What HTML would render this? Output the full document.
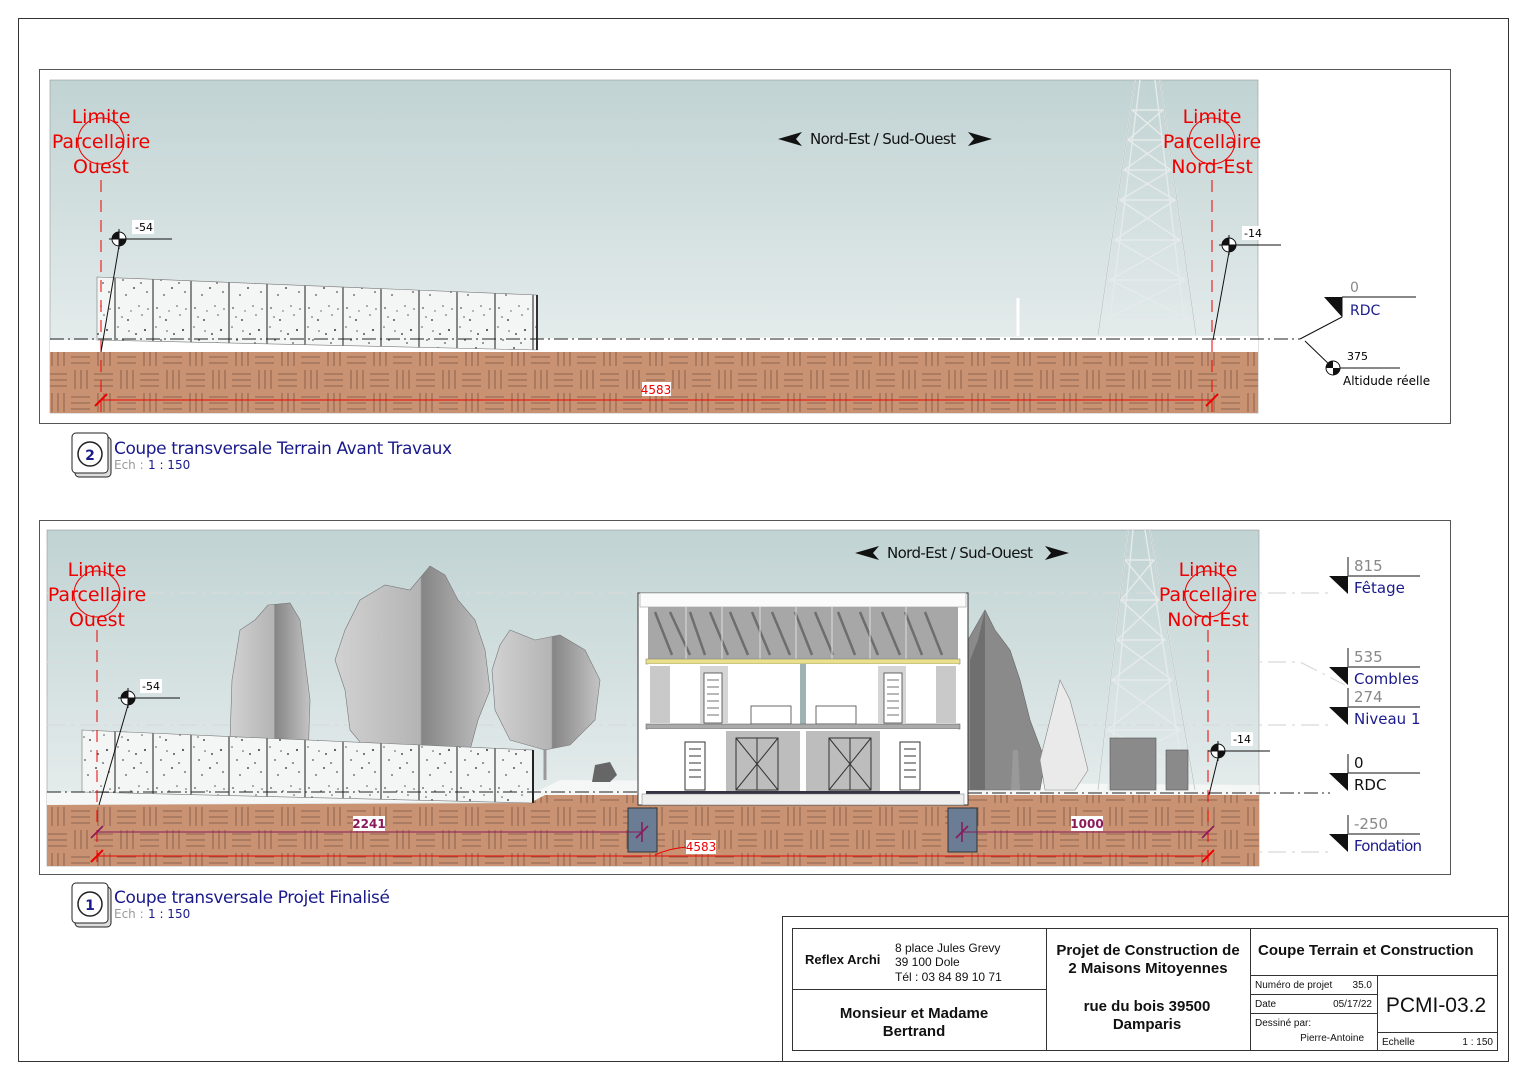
<!DOCTYPE html>
<html><head><meta charset="utf-8"><style>
html,body{margin:0;padding:0;background:#fff;}
svg{display:block;}
.d{font-family:"DejaVu Sans","Liberation Sans",sans-serif;}
.t{font-family:"Liberation Sans",sans-serif;}
</style></head><body>
<svg width="1527" height="1080" viewBox="0 0 1527 1080" xmlns="http://www.w3.org/2000/svg">
<defs>
<linearGradient id="sky" x1="0" y1="0" x2="0" y2="1">
<stop offset="0" stop-color="#c1d3d3"/><stop offset="1" stop-color="#eef2f2"/>
</linearGradient>
<pattern id="soil" width="46" height="46" patternUnits="userSpaceOnUse">
<rect width="46" height="46" fill="#c99373"/>
<g stroke="#7a5444" stroke-width="0.8">
<path d="M2 6H21M2 12H21M2 18H21"/>
<path d="M29 2V21M35 2V21M41 2V21"/>
<path d="M6 25V44M12 25V44M18 25V44"/>
<path d="M25 29H44M25 35H44M25 41H44"/>
</g>
</pattern>
<pattern id="fence" width="38" height="60" patternUnits="userSpaceOnUse">
<rect width="38" height="60" fill="#f4f5f5"/>
<g fill="#555">
<circle cx="5" cy="8" r="0.9"/><circle cx="14" cy="20" r="1"/><circle cx="25" cy="6" r="0.8"/><circle cx="31" cy="30" r="1.1"/>
<circle cx="9" cy="40" r="0.9"/><circle cx="20" cy="48" r="1"/><circle cx="28" cy="15" r="0.8"/><circle cx="12" cy="55" r="0.9"/>
<circle cx="33" cy="52" r="0.9"/><circle cx="4" cy="27" r="0.8"/><circle cx="22" cy="34" r="1"/><circle cx="17" cy="11" r="0.7"/>
<circle cx="8" cy="17" r="0.8"/><circle cx="27" cy="43" r="0.9"/><circle cx="15" cy="31" r="0.8"/><circle cx="34" cy="9" r="0.8"/>
</g>
<rect x="0" y="0" width="2" height="60" fill="#888"/>
</pattern>
<linearGradient id="tree" x1="0" y1="0" x2="1" y2="0">
<stop offset="0" stop-color="#d2d2d2"/><stop offset="0.55" stop-color="#b4b4b4"/><stop offset="0.56" stop-color="#858585"/><stop offset="1" stop-color="#c4c4c4"/>
</linearGradient>
</defs>

<rect x="18.5" y="18.5" width="1490" height="1043" fill="none" stroke="#333" stroke-width="1"/>

<!-- ===== TOP PANEL ===== -->
<rect x="39.5" y="69.5" width="1411" height="354" fill="#fff" stroke="#555"/>
<rect x="50" y="80" width="1208" height="333" fill="url(#sky)" stroke="#999" stroke-width="0.6"/>
<polygon points="50,340 1258,336 1258,352 50,352" fill="#fff"/>
<rect x="50" y="352" width="1208" height="61" fill="url(#soil)"/>
<g stroke="#e6eaea" stroke-width="1.4" fill="none">
<path d="M1135 80 L1098 335 M1160 80 L1196 335 M1140 80 L1108 335 M1155 80 L1186 335"/>
<path d="M1132 110H1163M1128 140H1167M1124 170H1171M1120 200H1175M1115 240H1180M1110 280H1185M1104 320H1191"/>
<path d="M1132 110L1167 140L1124 170L1175 200L1115 240L1185 280L1104 320M1163 110L1128 140L1171 170L1120 200L1180 240L1110 280L1191 320"/>
</g>
<g stroke="#b0b8b8" stroke-width="0.5" fill="none">
<path d="M1135 80 L1098 335 M1160 80 L1196 335"/>
</g>
<path d="M1018 298V336" stroke="#fff" stroke-width="3"/>
<polygon points="97,277 537,295 537,350 97,340" fill="url(#fence)" stroke="#777" stroke-width="0.6"/>
<path d="M537 295V350" stroke="#333" stroke-width="2"/>
<path d="M50 339H1300" stroke="#222" stroke-width="1" stroke-dasharray="14,4,2,4"/>
<g stroke="#e00" fill="none">
<path d="M101 180V413" stroke-dasharray="12,8"/>
<path d="M1212 180V413" stroke-dasharray="12,8"/>
<path d="M101 400H1212"/>
<path d="M95 406L107 394M1206 406L1218 394" stroke-width="2"/>
<circle cx="101" cy="141" r="23"/><circle cx="1212" cy="141" r="23"/>
</g>
<g class="d" fill="#e00" font-size="19" text-anchor="middle">
<text x="101" y="123">Limite</text><text x="101" y="148">Parcellaire</text><text x="101" y="173">Ouest</text>
<text x="1212" y="123">Limite</text><text x="1212" y="148">Parcellaire</text><text x="1212" y="173">Nord-Est</text>
</g>
<rect x="642" y="382" width="29" height="14" fill="#fff"/>
<text x="656" y="394" class="d" font-size="12" fill="#e00" text-anchor="middle">4583</text>
<path d="M778 139L802 132L796 139L802 146Z M992 139L968 132L974 139L968 146Z" fill="#111"/>
<text x="883" y="144" class="d" font-size="15" fill="#111" text-anchor="middle" textLength="146">Nord-Est / Sud-Ouest</text>
<g stroke="#111" fill="none">
<path d="M110 239H172M1220 245H1281"/>
<circle cx="119" cy="239" r="7" fill="#fff"/>
<circle cx="1229" cy="245" r="7" fill="#fff"/>
<path d="M119 229V249M109 239H129M1229 235V255M1219 245H1239"/>
<path d="M119 246L101 352M1229 252L1213 340"/>
</g>
<path d="M119 239H126A7 7 0 0 1 119 246Z M112 239H119V232A7 7 0 0 0 112 239Z" fill="#111"/>
<path d="M1229 245H1236A7 7 0 0 1 1229 252Z M1222 245H1229V238A7 7 0 0 0 1222 245Z" fill="#111"/>
<rect x="132" y="220" width="22" height="14" fill="#fff"/><text x="135" y="231" class="d" font-size="11">-54</text>
<rect x="1242" y="226" width="22" height="14" fill="#fff"/><text x="1244" y="237" class="d" font-size="11">-14</text>
<path d="M1300 339L1342 317M1342 297V317M1342 297H1416" stroke="#111" fill="none"/>
<path d="M1324 297H1342V317Z" fill="#111"/>
<text x="1350" y="292" class="d" font-size="14" fill="#888">0</text>
<text x="1350" y="315" class="d" font-size="14" fill="#1a1a8c">RDC</text>
<path d="M1305 341L1333 368M1333 368H1400" stroke="#111" fill="none"/>
<circle cx="1333" cy="368" r="7" fill="#fff" stroke="#111"/>
<path d="M1333 368H1340A7 7 0 0 1 1333 375ZM1326 368H1333V361A7 7 0 0 0 1326 368Z" fill="#111"/>
<text x="1347" y="360" class="d" font-size="11">375</text>
<text x="1343" y="385" class="d" font-size="12">Altidude réelle</text>

<rect x="75" y="437" width="36" height="40" rx="4" fill="#ddd" stroke="#222"/>
<rect x="72" y="433" width="36" height="40" rx="4" fill="#fff" stroke="#222"/>
<circle cx="90" cy="454" r="12" fill="none" stroke="#222" stroke-width="1.5"/>
<text x="90" y="460" class="d" font-size="14" font-weight="bold" fill="#1a1a8c" text-anchor="middle">2</text>
<text x="114" y="454" class="d" font-size="17" fill="#1a1a8c" textLength="338">Coupe transversale Terrain Avant Travaux</text>
<text x="114" y="469" class="d" font-size="12" fill="#999">Ech :</text>
<text x="148" y="469" class="d" font-size="12" fill="#1a1a8c">1 : 150</text>

<!-- ===== BOTTOM PANEL ===== -->
<rect x="39.5" y="520.5" width="1411" height="354" fill="#fff" stroke="#555"/>
<rect x="47" y="530" width="1212" height="336" fill="url(#sky)" stroke="#999" stroke-width="0.6"/>
<g stroke="#d8dada" stroke-width="1.2" stroke-dasharray="18,6,3,6" fill="none">
<path d="M47 593H1330M47 662H1300L1345 685M47 725H1330M47 852H1330"/>
</g>
<polygon points="47,792 540,790 560,780 1259,785 1259,796 47,805" fill="#f5f6f6"/>
<polygon points="47,805 530,803 545,795 1259,795 1259,866 47,866" fill="url(#soil)"/>
<g stroke="#e6eaea" stroke-width="1.4" fill="none">
<path d="M1128 530L1098 790M1150 530L1195 790M1133 530L1108 790M1145 530L1186 790"/>
<path d="M1125 560H1154M1121 600H1159M1117 640H1165M1112 680H1172M1107 730H1181M1102 770H1189"/>
<path d="M1125 560L1159 600L1117 640L1172 680L1107 730L1189 770M1154 560L1121 600L1165 640L1112 680L1181 730L1102 770"/>
</g>
<g stroke="#b0b8b8" stroke-width="0.5" fill="none"><path d="M1128 530L1098 790M1150 530L1195 790"/></g>
<path d="M268 605L290 603L300 620L305 660L310 700L308 760L295 780L240 780L230 740L232 680L240 630L255 620Z" fill="url(#tree)" stroke="#777" stroke-width="0.6"/>
<path d="M430 566L445 575L458 600L475 620L485 650L490 690L478 720L470 750L420 770L375 760L350 730L345 690L335 660L345 630L360 600L385 585L410 590Z" fill="url(#tree)" stroke="#777" stroke-width="0.6"/>
<path d="M545 780V720" stroke="#999" stroke-width="3"/>
<path d="M510 630L535 640L560 635L585 650L600 680L595 720L570 745L545 750L510 740L495 710L492 670L500 645Z" fill="url(#tree)" stroke="#777" stroke-width="0.6"/>
<path d="M595 765L610 762L617 775L610 782L592 782Z" fill="#666"/>
<path d="M985 610L995 630L1010 650L1020 680L1030 720L1045 760L1040 790L968 790L968 640Z" fill="#8a8a8a" stroke="#666" stroke-width="0.6"/>
<path d="M985 610L978 640L970 660V790L985 790Z" fill="#6f6f6f"/>
<path d="M1060 680L1070 700L1078 730L1088 770L1075 790L1045 790L1040 760L1050 720Z" fill="#eaeaea" stroke="#888" stroke-width="0.6"/>
<path d="M1013 750L1018 750L1020 790L1011 790Z" fill="#999"/>
<rect x="1110" y="738" width="46" height="52" fill="#8a8a8a" stroke="#555" stroke-width="0.6"/>
<rect x="1166" y="750" width="22" height="40" fill="#8a8a8a" stroke="#555" stroke-width="0.6"/>
<polygon points="82,730 533,750 533,803 82,792" fill="url(#fence)" stroke="#777" stroke-width="0.6"/>
<path d="M533 750V803" stroke="#222" stroke-width="2"/>
<!-- house -->
<rect x="638" y="593" width="330" height="212" fill="#fff" stroke="#333"/>
<rect x="640" y="593" width="326" height="14" fill="#fbfbfb" stroke="#999" stroke-width="0.6"/>
<rect x="648" y="607" width="310" height="53" fill="#a7a7a7"/>
<g stroke="#6e6e6e" stroke-width="2.5">
<path d="M655 612L672 655M670 612L690 655M690 612L705 655M710 612L728 655M730 612L748 655M752 612L770 655M772 612L790 655M795 612L812 655M815 612L833 655M838 612L855 655M860 612L878 655M882 612L900 655M905 612L922 655M925 612L942 655"/>
</g>
<g stroke="#ddd" stroke-width="1"><path d="M686 607V660M722 607V660M760 607V660M796 607V660M832 607V660M870 607V660M906 607V660"/></g>
<rect x="646" y="659" width="314" height="5" fill="#e8e08a" stroke="#777" stroke-width="0.5"/>
<rect x="648" y="664" width="310" height="61" fill="#fff"/>
<rect x="650" y="666" width="20" height="57" fill="#c9c9c9"/>
<rect x="700" y="666" width="28" height="57" fill="#d5d5d5"/>
<rect x="878" y="666" width="28" height="57" fill="#d5d5d5"/>
<rect x="936" y="666" width="20" height="57" fill="#c9c9c9"/>
<rect x="800" y="664" width="6" height="128" fill="#9fb3b3"/>
<g fill="#fff" stroke="#444" stroke-width="0.8">
<rect x="704" y="673" width="18" height="50"/><rect x="884" y="673" width="18" height="50"/>
<rect x="751" y="706" width="40" height="18"/><rect x="816" y="706" width="40" height="18"/>
</g>
<g stroke="#444" stroke-width="0.8"><path d="M707 680H719M707 687H719M707 694H719M707 701H719M707 708H719M707 715H719M887 680H899M887 687H899M887 694H899M887 701H899M887 708H899M887 715H899"/></g>
<rect x="646" y="724" width="314" height="5" fill="#aaa" stroke="#555" stroke-width="0.5"/>
<rect x="648" y="729" width="310" height="63" fill="#fff"/>
<rect x="726" y="731" width="74" height="61" fill="#bdbdbd"/>
<rect x="806" y="731" width="74" height="61" fill="#bdbdbd"/>
<g fill="none" stroke="#333" stroke-width="1">
<rect x="736" y="738" width="42" height="52"/><path d="M736 738L778 790M778 738L736 790M757 738V790"/>
<rect x="829" y="738" width="42" height="52"/><path d="M829 738L871 790M871 738L829 790M850 738V790"/>
<rect x="685" y="742" width="20" height="48" fill="#fff"/><rect x="900" y="742" width="20" height="48" fill="#fff"/>
<path d="M689 749H701M689 756H701M689 763H701M689 770H701M689 777H701M904 749H916M904 756H916M904 763H916M904 770H916M904 777H916"/>
</g>
<rect x="646" y="791" width="314" height="3" fill="#334"/>
<rect x="642" y="794" width="322" height="11" fill="#eee" stroke="#777" stroke-width="0.5"/>
<rect x="628" y="808" width="29" height="44" fill="#6a7d95" stroke="#333"/>
<rect x="948" y="808" width="29" height="44" fill="#6a7d95" stroke="#333"/>
<path d="M47 792H640M968 793H1330" stroke="#222" stroke-dasharray="14,4,2,4"/>
<g stroke="#e00" fill="none">
<path d="M97 630V866" stroke-dasharray="12,8"/>
<path d="M1208 630V866" stroke-dasharray="12,8"/>
<path d="M97 856H1208"/>
<path d="M91 862L103 850M1202 862L1214 850" stroke-width="2"/>
<circle cx="97" cy="594" r="23"/><circle cx="1208" cy="594" r="23"/>
<path d="M655 855Q670 848 688 847"/>
</g>
<g stroke="#8a1a5a" fill="none">
<path d="M97 832H642M962 832H1208"/>
<path d="M91 838L103 826M636 838L648 826M956 838L968 826M1202 838L1214 826M642 822V842M962 822V842" stroke-width="1.6"/>
</g>
<g class="d" fill="#e00" font-size="19" text-anchor="middle">
<text x="97" y="576">Limite</text><text x="97" y="601">Parcellaire</text><text x="97" y="626">Ouest</text>
<text x="1208" y="576">Limite</text><text x="1208" y="601">Parcellaire</text><text x="1208" y="626">Nord-Est</text>
</g>
<rect x="353" y="816" width="32" height="15" fill="#fff"/><text x="369" y="828" class="d" font-size="12" font-weight="bold" fill="#8a1a5a" text-anchor="middle">2241</text>
<rect x="1071" y="816" width="32" height="15" fill="#fff"/><text x="1087" y="828" class="d" font-size="12" font-weight="bold" fill="#8a1a5a" text-anchor="middle">1000</text>
<rect x="686" y="840" width="30" height="14" fill="#fff"/><text x="701" y="851" class="d" font-size="12" fill="#e00" text-anchor="middle">4583</text>
<path d="M855 553L879 546L873 553L879 560Z M1069 553L1045 546L1051 553L1045 560Z" fill="#111"/>
<text x="960" y="558" class="d" font-size="15" fill="#111" text-anchor="middle" textLength="146">Nord-Est / Sud-Ouest</text>
<g stroke="#111" fill="none">
<path d="M119 698H180M1210 751H1270"/>
<circle cx="128" cy="698" r="7" fill="#fff"/><circle cx="1218" cy="751" r="7" fill="#fff"/>
<path d="M128 688V708M118 698H138M1218 741V761M1208 751H1228"/>
<path d="M128 705L99 805M1218 758L1209 795"/>
</g>
<path d="M128 698H135A7 7 0 0 1 128 705ZM121 698H128V691A7 7 0 0 0 121 698Z" fill="#111"/>
<path d="M1218 751H1225A7 7 0 0 1 1218 758ZM1211 751H1218V744A7 7 0 0 0 1211 751Z" fill="#111"/>
<rect x="140" y="679" width="22" height="14" fill="#fff"/><text x="142" y="690" class="d" font-size="11">-54</text>
<rect x="1231" y="732" width="22" height="14" fill="#fff"/><text x="1233" y="743" class="d" font-size="11">-14</text>
<g stroke="#111" fill="none">
<path d="M1348 576H1420M1348 667H1420M1348 707H1420M1348 754V773M1348 773H1420M1348 834H1420"/>
</g>
<g stroke="#666" stroke-width="1.5"><path d="M1348 557V576M1348 648V667M1348 688V707M1348 815V834"/></g>
<path d="M1329 576H1348V594Z M1329 667H1348V685Z M1329 707H1348V725Z M1329 773H1348V791Z M1329 834H1348V852Z" fill="#111"/>
<g class="d" font-size="15">
<text x="1354" y="571" fill="#888">815</text><text x="1354" y="593" fill="#1a1a8c">Fêtage</text>
<text x="1354" y="662" fill="#888">535</text><text x="1354" y="684" fill="#1a1a8c">Combles</text>
<text x="1354" y="702" fill="#888">274</text><text x="1354" y="724" fill="#1a1a8c">Niveau 1</text>
<text x="1354" y="768" fill="#111">0</text><text x="1354" y="790" fill="#111">RDC</text>
<text x="1354" y="829" fill="#888">-250</text><text x="1354" y="851" fill="#1a1a8c" textLength="68">Fondation</text>
</g>

<rect x="75" y="887" width="36" height="40" rx="4" fill="#ddd" stroke="#222"/>
<rect x="72" y="883" width="36" height="40" rx="4" fill="#fff" stroke="#222"/>
<circle cx="90" cy="904" r="12" fill="none" stroke="#222" stroke-width="1.5"/>
<text x="90" y="910" class="d" font-size="14" font-weight="bold" fill="#1a1a8c" text-anchor="middle">1</text>
<text x="114" y="903" class="d" font-size="17" fill="#1a1a8c" textLength="276">Coupe transversale Projet Finalisé</text>
<text x="114" y="918" class="d" font-size="12" fill="#999">Ech :</text>
<text x="148" y="918" class="d" font-size="12" fill="#1a1a8c">1 : 150</text>

<!-- ===== TITLE BLOCK ===== -->
<rect x="782.5" y="916.5" width="726" height="145" fill="#fff" stroke="#333"/>
<rect x="792.5" y="928.5" width="705" height="122" fill="none" stroke="#333"/>
<g stroke="#333" fill="none">
<path d="M1046.5 928V1051M1250.5 928V1051M792 989.5H1046M1250 975.5H1497M1377.5 975V1051M1250 994.5H1377M1250 1013.5H1377M1377 1032.5H1497"/>
</g>
<g class="t" fill="#111">
<text x="805" y="964" font-size="13" font-weight="bold">Reflex Archi</text>
<text x="895" y="952" font-size="12">8 place Jules Grevy</text>
<text x="895" y="966" font-size="12">39 100 Dole</text>
<text x="895" y="981" font-size="12">Tél : 03 84 89 10 71</text>
<text x="914" y="1018" font-size="15" font-weight="bold" text-anchor="middle">Monsieur et Madame</text>
<text x="914" y="1036" font-size="15" font-weight="bold" text-anchor="middle">Bertrand</text>
<text x="1148" y="955" font-size="15" font-weight="bold" text-anchor="middle">Projet de Construction de</text>
<text x="1148" y="973" font-size="15" font-weight="bold" text-anchor="middle">2 Maisons Mitoyennes</text>
<text x="1147" y="1011" font-size="15" font-weight="bold" text-anchor="middle">rue du bois 39500</text>
<text x="1147" y="1029" font-size="15" font-weight="bold" text-anchor="middle">Damparis</text>
<text x="1258" y="955" font-size="15" font-weight="bold">Coupe Terrain et Construction</text>
<text x="1255" y="988" font-size="10">Numéro de projet</text><text x="1372" y="988" font-size="10" text-anchor="end">35.0</text>
<text x="1255" y="1007" font-size="10">Date</text><text x="1372" y="1007" font-size="10" text-anchor="end">05/17/22</text>
<text x="1255" y="1026" font-size="10">Dessiné par:</text>
<text x="1364" y="1041" font-size="10" text-anchor="end">Pierre-Antoine</text>
<text x="1436" y="1012" font-size="21" text-anchor="middle">PCMI-03.2</text>
<text x="1382" y="1045" font-size="10">Echelle</text><text x="1493" y="1045" font-size="10" text-anchor="end">1 : 150</text>
</g>
</svg>
</body></html>
